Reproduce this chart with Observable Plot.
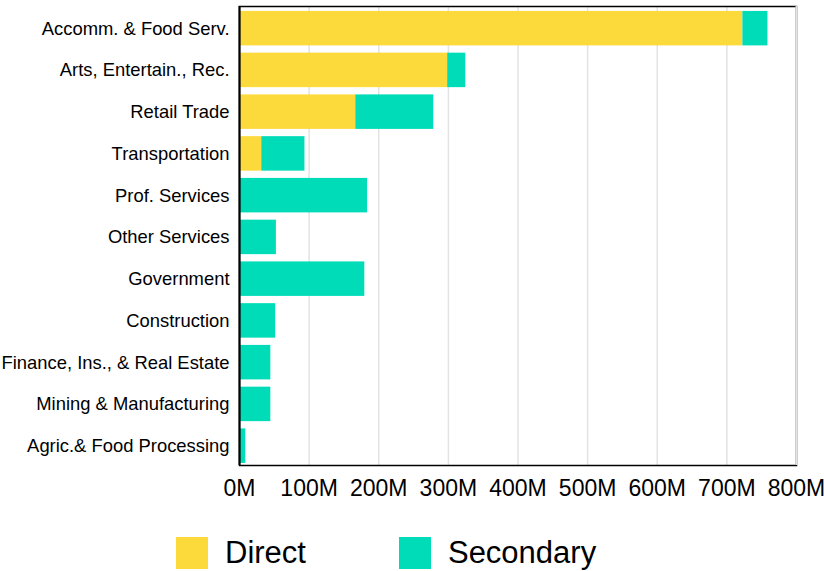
<!DOCTYPE html>
<html>
<head>
<meta charset="utf-8">
<script src="https://cdn.jsdelivr.net/npm/d3@7"></script>
<script src="https://cdn.jsdelivr.net/npm/@observablehq/plot@0.6"></script>
<style>
  body { margin: 0; background: #fff; font-family: "Liberation Sans", Arial, sans-serif; }
  #legend { display: flex; align-items: center; padding-left: 176px; margin-top: 25px; font-size: 31px; color: #000; }
  .item { display: flex; align-items: center; }
  .sw { width: 32px; height: 32px; margin-right: 17px; }
</style>
</head>
<body>
<div id="chart"></div>
<div id="legend"></div>
<script>
const categories = ["Accomm. & Food Serv.", "Arts, Entertain., Rec.", "Retail Trade", "Transportation", "Prof. Services", "Other Services", "Government", "Construction", "Finance, Ins., & Real Estate", "Mining & Manufacturing", "Agric.& Food Processing"];
const series = ["Direct", "Secondary"];
const directValues = [723, 299, 167, 32, 0, 0, 0, 0, 0, 0, 0];      // millions
const secondaryValues = [36, 26, 112, 62, 184, 53, 180, 52, 45, 45, 9]; // millions
const xTicks = [0, 100, 200, 300, 400, 500, 600, 700, 800];
const colors = ["#fdda3c", "#00dcb8"];

const data = [];
categories.forEach((c, i) => data.push({category: c, series: "Direct", value: directValues[i]}));
categories.forEach((c, i) => data.push({category: c, series: "Secondary", value: secondaryValues[i]}));

const chart = Plot.plot({
  width: 824,
  height: 510,
  marginLeft: 239,
  marginRight: 28,
  marginTop: 6,
  marginBottom: 45,
  style: {fontFamily: "'Liberation Sans', Arial, sans-serif", color: "#000", background: "#fff"},
  x: {domain: [0, 800], axis: null, label: null},
  y: {domain: categories, paddingInner: 0.174, paddingOuter: 0.084, align: 0.7, round: false, axis: null, label: null},
  color: {domain: series, range: colors},
  marks: [
    Plot.gridX(xTicks, {stroke: "#e3e3e3", strokeOpacity: 1, strokeWidth: 1.5}),
    Plot.barX(data, {x: "value", y: "category", fill: "series", order: series}),
    Plot.frame({stroke: "#000", strokeWidth: 1.5}),
    Plot.ruleX([800], {stroke: "#e3e3e3", strokeWidth: 2}),
    Plot.ruleX([0], {stroke: "#000", strokeWidth: 2}),
    Plot.axisX(xTicks, {tickSize: 0, tickPadding: 14, fontSize: 23, tickFormat: d => d + "M", fill: "#000", label: null}),
    Plot.axisY({tickSize: 0, tickPadding: 10, fontSize: 18.4, fill: "#000", label: null})
  ]
});
document.getElementById("chart").appendChild(chart);

const legend = document.getElementById("legend");
series.forEach((s, i) => {
  const item = document.createElement("div");
  item.className = "item";
  if (i === 0) item.style.marginRight = "93px";
  const sw = document.createElement("div");
  sw.className = "sw";
  sw.style.background = colors[i];
  const t = document.createElement("span");
  t.textContent = s;
  item.appendChild(sw);
  item.appendChild(t);
  legend.appendChild(item);
});
</script>
</body>
</html>
